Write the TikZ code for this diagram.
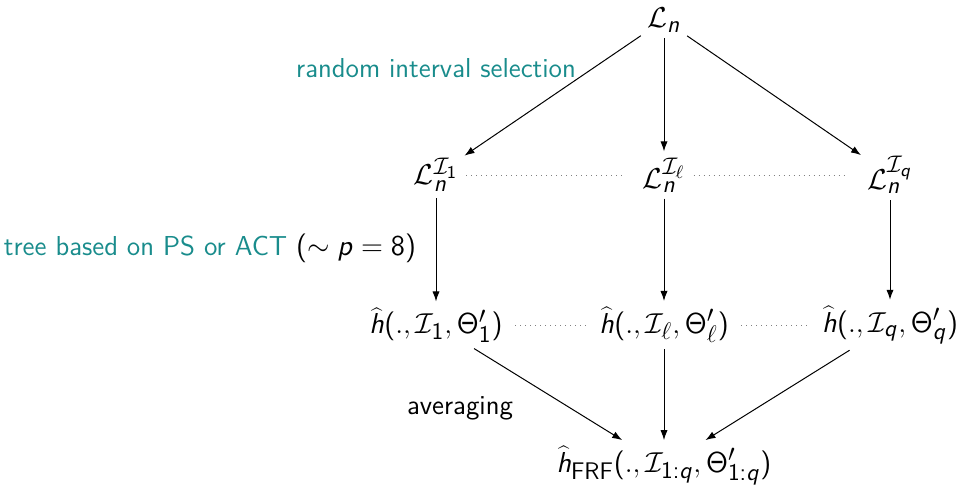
\documentclass[tikz,border=0pt]{standalone}
\usetikzlibrary{arrows.meta}
\DeclareSymbolFont{operators}{OT1}{cmss}{m}{n}
\SetSymbolFont{operators}{bold}{OT1}{cmss}{bx}{n}
\DeclareSymbolFont{sfit}{OT1}{cmss}{m}{sl}
\DeclareMathSymbol{n}{\mathalpha}{sfit}{`n}
\DeclareMathSymbol{h}{\mathalpha}{sfit}{`h}
\DeclareMathSymbol{p}{\mathalpha}{sfit}{`p}
\DeclareMathSymbol{q}{\mathalpha}{sfit}{`q}
\DeclareMathSizes{13.7}{14.4}{11.5}{9}
\definecolor{labteal}{RGB}{25,140,140}
\tikzset{
  lbl/.style={font=\fontsize{13.7}{16}\selectfont\sffamily, inner sep=2pt},
  mathnode/.style={font=\fontsize{13.7}{16}\selectfont\sffamily, inner sep=3pt},
  arr/.style={-{Latex[length=5pt,width=3.6pt]}, line width=0.5pt},
  dots/.style={dotted, gray, line width=0.5pt}
}
\begin{document}
\begin{tikzpicture}[x=0.5pt,y=-0.5pt]
\useasboundingbox (0,0) rectangle (960,494);
\node[mathnode] (Ln) at (664,20) {$\mathcal{L}_n$};
\node[mathnode] (L1) at (436,175) {$\mathcal{L}_n^{\mathcal{I}_1}$};
\node[mathnode] (Ll) at (664,175) {$\mathcal{L}_n^{\mathcal{I}_\ell}$};
\node[mathnode] (Lq) at (890,175) {$\mathcal{L}_n^{\mathcal{I}_q}$};
\node[mathnode] (h1) at (436,325) {$\widehat{h}(.,\mathcal{I}_1,\Theta'_1)$};
\node[mathnode] (hl) at (664,325) {$\widehat{h}(.,\mathcal{I}_\ell,\Theta'_\ell)$};
\node[mathnode] (hq) at (890,325) {$\widehat{h}(.,\mathcal{I}_q,\Theta'_q)$};
\node[mathnode] (hf) at (664,466) {$\widehat{h}_{\mathsf{FRF}}(.,\mathcal{I}_{1:q},\Theta'_{1:q})$};
\node[lbl, text=labteal] (t1) at (436,68) {random interval selection};
\node[lbl] (t2) at (210,248) {\textcolor{labteal}{tree based on PS or ACT} $(\sim p=8)$};
\node[lbl] (t3) at (460,408) {averaging};
\draw[arr] (Ln) -- (L1);
\draw[arr] (Ln) -- (Ll);
\draw[arr] (Ln) -- (Lq);
\draw[arr] (L1) -- (h1);
\draw[arr] (Ll) -- (hl);
\draw[arr] (Lq) -- (hq);
\draw[arr] (h1) -- (hf);
\draw[arr] (hl) -- (hf);
\draw[arr] (hq) -- (hf);
\draw[dots, shorten <=1pt, shorten >=7pt] (L1) -- (Ll);
\draw[dots, shorten <=1pt, shorten >=7pt] (Ll) -- (Lq);
\draw[dots, shorten <=3pt, shorten >=3pt] (h1) -- (hl);
\draw[dots, shorten <=3pt, shorten >=3pt] (hl) -- (hq);
\end{tikzpicture}
\end{document}
